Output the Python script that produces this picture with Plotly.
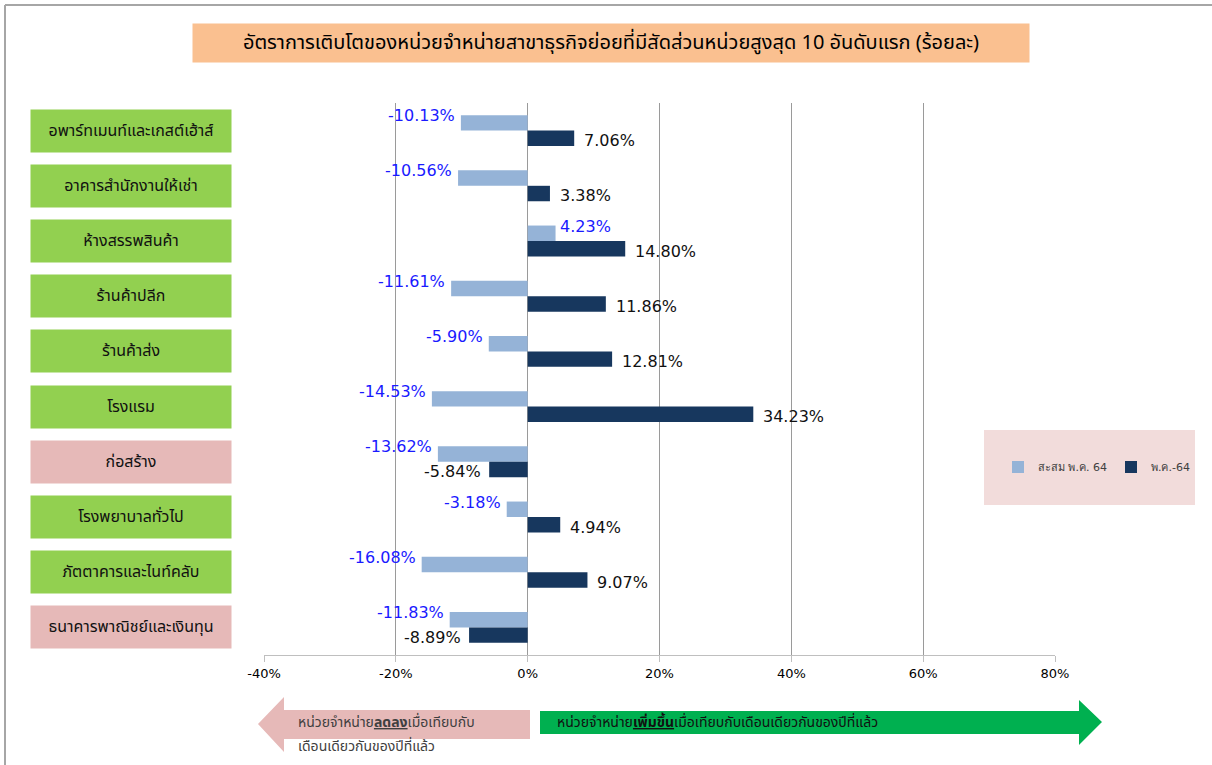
import plotly.graph_objects as go

# ---------------- data ----------------
categories = ["อพาร์ทเมนท์และเกสต์เฮ้าส์", "อาคารสำนักงานให้เช่า", "ห้างสรรพสินค้า",
              "ร้านค้าปลีก", "ร้านค้าส่ง", "โรงแรม", "ก่อสร้าง", "โรงพยาบาลทั่วไป",
              "ภัตตาคารและไนท์คลับ", "ธนาคารพาณิชย์และเงินทุน"]
cumulative = [-10.13, -10.56, 4.23, -11.61, -5.90, -14.53, -13.62, -3.18, -16.08, -11.83]
month = [7.06, 3.38, 14.80, 11.86, 12.81, 34.23, -5.84, 4.94, 9.07, -8.89]
series_names = ["สะสม พ.ค. 64", "พ.ค.-64"]
tick_vals = [-40, -20, 0, 20, 40, 60, 80]
tick_text = ["-40%", "-20%", "0%", "20%", "40%", "60%", "80%"]
title_text = "อัตราการเติบโตของหน่วยจำหน่ายสาขาธุรกิจย่อยที่มีสัดส่วนหน่วยสูงสุด 10 อันดับแรก (ร้อยละ)"

# ---------------- layout geometry ----------------
W, H = 1212, 765
L, R, T, B = 264, 157, 103, 110
PW, PH = W - L - R, H - T - B


def px(x):
    return (x - L) / PW


def py(y):
    return 1 - (y - T) / PH


LIGHT = "#95B3D7"
DARK = "#17375E"
FONT = "DejaVu Sans, Verdana, sans-serif"
THAI = "Tahoma, 'Noto Sans Thai', 'Noto Sans', sans-serif"

fig = go.Figure()
fig.add_trace(go.Bar(y=categories, x=cumulative, name=series_names[0], orientation="h",
                     marker=dict(color=LIGHT, line=dict(width=0))))
fig.add_trace(go.Bar(y=categories, x=month, name=series_names[1], orientation="h",
                     marker=dict(color=DARK, line=dict(width=0))))

annotations = []
# data labels
for c, v in zip(categories, cumulative):
    annotations.append(dict(x=v, y=c, xref="x", yref="y", text=f"{v:.2f}%", showarrow=False,
                            xanchor="right" if v < 0 else "left", xshift=-4 if v < 0 else 2,
                            yshift=15, yanchor="middle",
                            font=dict(family=FONT, size=16, color="#1A1AFF")))
for c, v in zip(categories, month):
    annotations.append(dict(x=v, y=c, xref="x", yref="y", text=f"{v:.2f}%", showarrow=False,
                            xanchor="right" if v < 0 else "left", xshift=-6 if v < 0 else 8,
                            yshift=-10, yanchor="middle",
                            font=dict(family=FONT, size=16, color="#111111")))
# category boxes
for c, v in zip(categories, month):
    annotations.append(dict(x=px(131), y=c, xref="paper", yref="y", text=c, showarrow=False,
                            xanchor="center", yanchor="middle", width=198, height=40,
                            bgcolor="#92D050" if v >= 0 else "#E6B9B8",
                            font=dict(family=THAI, size=16, color="#111111")))
# title
annotations.append(dict(x=px(611), y=py(43), xref="paper", yref="paper", text=title_text,
                        showarrow=False, xanchor="center", yanchor="middle", width=834, height=36,
                        bgcolor="#FAC090", font=dict(family=THAI, size=20, color="#000000")))
# arrow texts
annotations.append(dict(x=px(296), y=py(722), xref="paper", yref="paper",
                        text="หน่วยจำหน่าย<span style='font-weight:bold;text-decoration:underline'>ลดลง</span>เมื่อเทียบกับ",
                        showarrow=False, xanchor="left", yanchor="middle",
                        font=dict(family=THAI, size=14, color="#404040")))
annotations.append(dict(x=px(296), y=py(746), xref="paper", yref="paper",
                        text="เดือนเดียวกันของปีที่แล้ว",
                        showarrow=False, xanchor="left", yanchor="middle",
                        font=dict(family=THAI, size=14, color="#404040")))
annotations.append(dict(x=px(555), y=py(722), xref="paper", yref="paper",
                        text="หน่วยจำหน่าย<span style='font-weight:bold;text-decoration:underline'>เพิ่มขึ้น</span>เมื่อเทียบกับเดือนเดียวกันของปีที่แล้ว",
                        showarrow=False, xanchor="left", yanchor="middle",
                        font=dict(family=THAI, size=14, color="#111111")))

shapes = []
# legend background
shapes.append(dict(type="rect", xref="paper", yref="paper", x0=px(984), x1=px(1195),
                   y0=py(505), y1=py(430), fillcolor="#F2DCDB", line=dict(width=0), layer="above"))


def path(points):
    return "M " + " L ".join(f"{px(a):.5f},{py(b):.5f}" for a, b in points) + " Z"


# left (pink) arrow
shapes.append(dict(type="path", xref="paper", yref="paper",
                   path=path([(258, 724), (284, 697), (284, 710), (530, 710), (530, 739),
                              (284, 739), (284, 752)]),
                   fillcolor="#E6B9B8", line=dict(width=0), layer="below"))
# right (green) arrow
shapes.append(dict(type="path", xref="paper", yref="paper",
                   path=path([(1102, 722), (1079, 700), (1079, 711), (540, 711), (540, 734),
                              (1079, 734), (1079, 745)]),
                   fillcolor="#00B050", line=dict(width=0), layer="below"))
# page border (left & top)
shapes.append(dict(type="line", xref="paper", yref="paper", x0=px(5), x1=px(5), y0=py(5), y1=py(765),
                   line=dict(color="#A6A6A6", width=2)))
shapes.append(dict(type="line", xref="paper", yref="paper", x0=px(5), x1=px(1212), y0=py(5), y1=py(5),
                   line=dict(color="#A6A6A6", width=2)))

fig.update_layout(
    width=W, height=H,
    margin=dict(l=L, r=R, t=T, b=B, autoexpand=False),
    paper_bgcolor="white", plot_bgcolor="white",
    barmode="group", bargap=0.44, bargroupgap=0,
    showlegend=True,
    legend=dict(orientation="h", x=px(998), y=py(467), xanchor="left", yanchor="middle",
                bgcolor="rgba(0,0,0,0)", font=dict(family=FONT, size=11, color="#404040"),
                traceorder="normal", itemwidth=30, entrywidth=68, entrywidthmode="pixels"),
    xaxis=dict(range=[-40, 80], tickvals=tick_vals, ticktext=tick_text, showgrid=True,
               gridcolor="#9A9A9A", gridwidth=1, zeroline=True, zerolinecolor="#9A9A9A",
               zerolinewidth=1, showline=True, linecolor="#BFBFBF", linewidth=1,
               ticks="outside", ticklen=6, tickcolor="#BFBFBF",
               tickfont=dict(family=FONT, size=13, color="#000000"), fixedrange=True),
    yaxis=dict(autorange="reversed", showticklabels=False, showgrid=False, zeroline=False,
               showline=False, ticks=""),
    annotations=annotations,
    shapes=shapes,
)

fig.write_html("out.html", config={"displayModeBar": False},
               post_script="document.body.style.margin='0';")
